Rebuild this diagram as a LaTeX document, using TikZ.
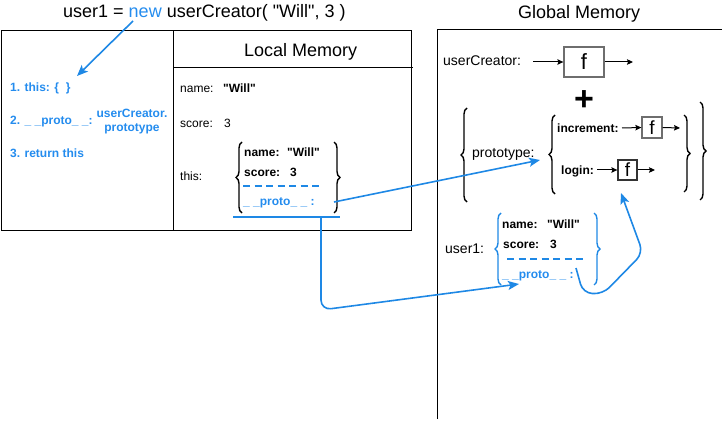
\documentclass[tikz,border=0pt]{standalone}
\usepackage{fontspec}
\setmainfont{Liberation Sans}[Ligatures=TeXOff]
\usetikzlibrary{arrows.meta,decorations.pathreplacing}
\definecolor{lnblue}{RGB}{30,136,229}
\definecolor{txblue}{RGB}{36,140,238}
\definecolor{fgray}{RGB}{110,110,110}
\newcommand\myfs[1]{\fontsize{#1}{#1}\selectfont}
\begin{document}
\begin{tikzpicture}[x=1pt,y=-1pt,
 txt/.style={anchor=base west,inner sep=0pt,font=\myfs{12}},
 btxt/.style={anchor=base west,inner sep=0pt,font=\myfs{12}\bfseries},
 bluetxt/.style={btxt,text=txblue},
 ctitle/.style={anchor=base west,inner sep=0pt,font=\myfs{18}},
 midtxt/.style={anchor=base west,inner sep=0pt,font=\myfs{14}},
 fbox/.style={draw=#1,line width=1.3pt,inner sep=0pt},
 barr/.style={-{Stealth[length=6pt,width=5.5pt,inset=1pt]},line width=1pt},
 blarr/.style={draw=lnblue,line width=1.6pt,-{Stealth[length=11pt,width=9pt,inset=2.5pt]}},
 curly/.style={decorate,decoration={brace,amplitude=6pt},line width=1.4pt},
 bdash/.style={draw=lnblue,line width=1.5pt,dash pattern=on 7pt off 4.5pt},
]
\useasboundingbox (0,0) rectangle (722,422);

% ---------- titles ----------
\node[ctitle] (title) at (63,17.5) {user1 = \textcolor{txblue}{new} userCreator( "Will", 3 )};
\node[ctitle] (gtitle) at (518,18.5) {Global Memory};

% ---------- left execution box ----------
\draw[line width=1pt] (1,31) rectangle (411,230);
\draw[line width=1pt] (173,31) -- (173,230);
\draw[line width=1pt] (173,68) -- (413,68);
\node[ctitle] (ltitle) at (244,57) {Local Memory};

\node[bluetxt] (s1) at (10,91.5) {1. this: \{~~\}};
\node[bluetxt] (s2) at (10,125) {2. \_ \_proto\_ \_:};
\node[bluetxt,anchor=base] (s2a) at (132,118) {userCreator.};
\node[bluetxt,anchor=base] (s2b) at (132,131.5) {prototype};
\node[bluetxt] (s3) at (10,158) {3. return this};

\node[txt] (lname) at (180,93) {\makebox[43pt][l]{name:}\textbf{"Will"}};
\node[txt] (lscore) at (180,128) {\makebox[44pt][l]{score:}3};
\node[txt] (lthis) at (180,180) {this:};

% this object
\draw[curly] (242,213) -- (242,142);
\draw[curly] (334,142) -- (334,213);
\node[btxt] (tname) at (244,157) {\makebox[43pt][l]{name:}"Will"};
\node[btxt] (tscore) at (244,176) {\makebox[46pt][l]{score:}3};
\draw[bdash] (243,186) -- (321,186);
\node[bluetxt] (tproto) at (243,205) {\_ \_proto\_ \_ :};
\draw[draw=lnblue,line width=1.5pt] (233,217) -- (340,217);

% ---------- global memory ----------
\draw[line width=1pt] (437,419) -- (437,30) -- (722,30);
\node[midtxt] (uclabel) at (443,66) {userCreator:};
\node[fbox=fgray,minimum width=40pt,minimum height=30pt,font=\myfs{22}] (fuc) at (584,62) {f};
\coordinate (ucin) at (533,62);
\coordinate (ucout) at (633,62);
\draw[barr] (ucin) -- (fuc.west);
\draw[barr] (fuc.east) -- (ucout);

\node[font=\myfs{34}\bfseries,inner sep=0pt] (plus) at (584,101) {+};

\draw[curly] (467,202) -- (467,108);
\draw[curly] (700,102) -- (700,200);
\node[midtxt] (protolabel) at (472,158) {prototype:};

\draw[curly] (555,194) -- (555,115);
\draw[curly] (684,115) -- (684,192);

\node[btxt] (incr) at (557,132.5) {increment:};
\node[fbox=fgray,minimum width=20pt,minimum height=21pt,font=\myfs{19}] (finc) at (652,127.5) {f};
\coordinate (incin) at (622,128);
\coordinate (incout) at (680,128);
\draw[barr] (incin) -- (finc.west);
\draw[barr] (finc.east) -- (incout);

\node[btxt] (loginlabel) at (561,174.5) {login:};
\node[fbox=black!80,minimum width=19pt,minimum height=20pt,font=\myfs{19}] (flog) at (627.5,170) {f};
\coordinate (login) at (597,170);
\coordinate (logout) at (655,170);
\draw[barr] (login) -- (flog.west);
\draw[barr] (flog.east) -- (logout);

% user1 object
\node[midtxt] (u1label) at (445,253) {user1:};
\draw[curly,draw=lnblue] (501,285) -- (501,213);
\draw[curly,draw=lnblue] (594,213) -- (594,285);
\node[btxt] (uname) at (502,228) {\makebox[45pt][l]{name:}"Will"};
\node[btxt] (uscore) at (503,248) {\makebox[47pt][l]{score:}3};
\draw[bdash] (507,259) -- (584,259);
\node[bluetxt] (uproto) at (502,278) {\_ \_proto\_ \_ :};

% ---------- blue connectors ----------
\coordinate (newp) at (133,21);
\coordinate (stepin) at (77,76);
\draw[blarr] (newp) -- (stepin);

\coordinate (lpstart) at (334,202);
\coordinate (protoin) at (540,160);
\draw[blarr] (lpstart) -- (protoin);

\coordinate (ulstart) at (321,217);
\coordinate (u1in) at (519,284);
\draw[blarr,rounded corners=10pt] (ulstart) -- (321,310) -- (u1in);

\coordinate (upstart) at (576,268);
\coordinate (logback) at (621,193);
\draw[blarr,rounded corners=9pt] (upstart) -- (583,293) -- (603,294) -- (643,253) -- (logback);
\end{tikzpicture}
\end{document}
